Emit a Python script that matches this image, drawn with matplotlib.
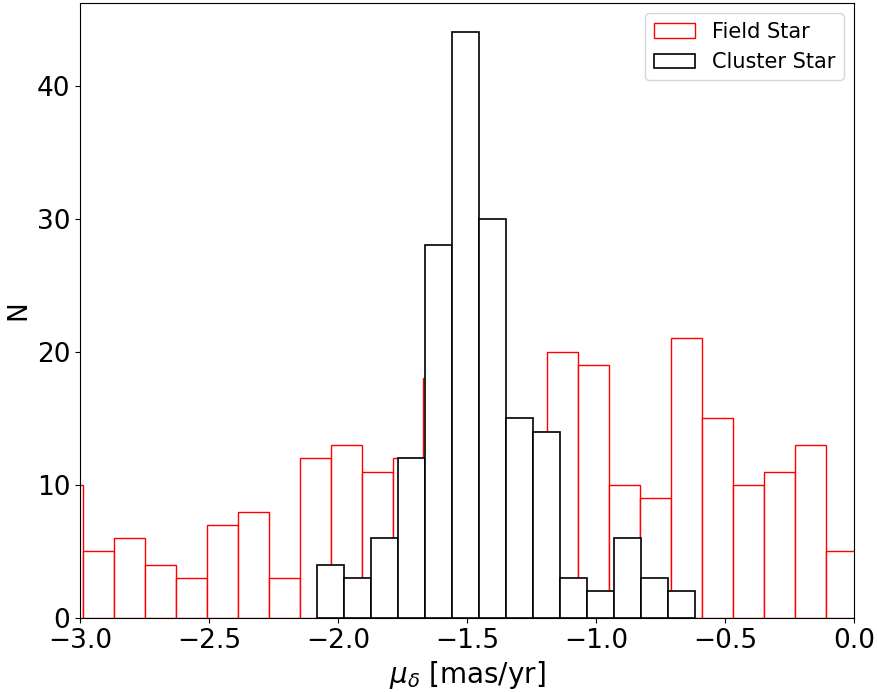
import numpy as np
import matplotlib
matplotlib.use("Agg")
import matplotlib.pyplot as plt

# field star histogram: counts per bin, data range
field_counts = [10, 5, 6, 4, 3, 7, 8, 3, 12, 13, 11, 12, 18, 22, 15, 14,
                20, 19, 10, 9, 21, 15, 10, 11, 13, 5]
field_range = (-3.110, 0.013)

# cluster star histogram
cluster_counts = [4, 3, 6, 12, 28, 44, 30, 15, 14, 3, 2, 6, 3, 2]
cluster_range = (-2.080, -0.615)

xticks = [-3.0, -2.5, -2.0, -1.5, -1.0, -0.5, 0.0]
yticks = [0, 10, 20, 30, 40]


def edges(counts, rng):
    return np.linspace(rng[0], rng[1], len(counts) + 1)


fig = plt.figure(figsize=(8.77, 6.92), dpi=100)
ax = fig.add_axes([0.0912, 0.1069, 0.8826, 0.8888])

fe = edges(field_counts, field_range)
ax.hist(fe[:-1], bins=fe, weights=field_counts, histtype="bar",
        facecolor="white", edgecolor="red", linewidth=1.0, label="Field Star")

ce = edges(cluster_counts, cluster_range)
ax.hist(ce[:-1], bins=ce, weights=cluster_counts, histtype="bar",
        facecolor="white", edgecolor="black", linewidth=1.2, label="Cluster Star")

ax.set_xlim(-3.0, 0.0)
ax.set_ylim(0, max(cluster_counts) * 1.05)
ax.set_xticks(xticks)
ax.set_yticks(yticks)
ax.tick_params(labelsize=19)
ax.set_xlabel(r"$\mu_\delta$ [mas/yr]", fontsize=20)
ax.set_ylabel("N", fontsize=19)
ax.legend(loc="upper right", fontsize=15)

fig.savefig("out.png", dpi=100)
